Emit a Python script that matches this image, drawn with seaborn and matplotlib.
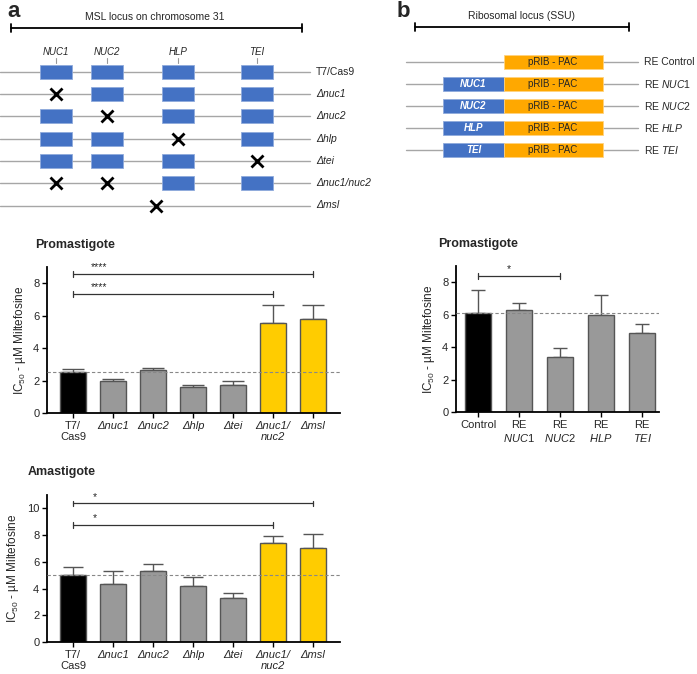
import matplotlib
matplotlib.use("Agg")
import matplotlib.pyplot as plt
import matplotlib.patches as mpatches
import seaborn as sns
import numpy as np
import pandas as pd

# ---- data ----
strains = ["T7/\nCas9", "Δnuc1", "Δnuc2", "Δhlp", "Δtei", "Δnuc1/\nnuc2", "Δmsl"]
strain_kind = ["ctrl", "ko", "ko", "ko", "ko", "dko", "dko"]
pro_mean = [2.5, 2.0, 2.65, 1.6, 1.7, 5.55, 5.8]
pro_top = [2.7, 2.1, 2.75, 1.75, 1.95, 6.65, 6.65]
ama_mean = [5.0, 4.35, 5.35, 4.2, 3.3, 7.4, 7.0]
ama_top = [5.6, 5.3, 5.85, 4.85, 3.7, 7.9, 8.1]

re_lines = ["Control", "RE\nNUC1", "RE\nNUC2", "RE\nHLP", "RE\nTEI"]
re_kind = ["ctrl", "ko", "ko", "ko", "ko"]
re_mean = [6.1, 6.3, 3.4, 6.0, 4.85]
re_top = [7.5, 6.7, 3.95, 7.2, 5.4]

# schematic a: gene start/end along locus, rows list deleted genes
genes = ["NUC1", "NUC2", "HLP", "TEI"]
gene_start = [40, 91, 162, 241]
gene_end = [72, 123, 194, 273]
rows_a = ["T7/Cas9", "Δnuc1", "Δnuc2", "Δhlp", "Δtei", "Δnuc1/nuc2", "Δmsl"]
deleted = [[], ["NUC1"], ["NUC2"], ["HLP"], ["TEI"], ["NUC1", "NUC2"], ["MSL"]]

# schematic b
rows_b = ["Control", "NUC1", "NUC2", "HLP", "TEI"]

colors = {"ctrl": "#000000", "ko": "#999999", "dko": "#FFCC00"}
blue = "#4472C4"
orange = "#FFA800"

sns.set_theme(style="ticks")
plt.rcParams["font.family"] = ["Liberation Sans", "DejaVu Sans"]
plt.rcParams["mathtext.fontset"] = "custom"
plt.rcParams["mathtext.rm"] = "Liberation Sans"
plt.rcParams["mathtext.it"] = "Liberation Sans:italic"

W, H = 697, 674
fig = plt.figure(figsize=(W / 100, H / 100), dpi=100)


def px_axes(l, t, r, b):
    return fig.add_axes([l / W, 1 - b / H, (r - l) / W, (b - t) / H])


# ---------- schematics (pixel coordinate overlay) ----------
ov = px_axes(0, 0, W, H)
ov.set_xlim(0, W)
ov.set_ylim(H, 0)
ov.axis("off")

# panel a
ov.text(7, 17, "a", fontsize=16, fontweight="bold", ha="left", va="baseline")
ov.text(155, 17, "MSL locus on chromosome 31", fontsize=7.5, ha="center", va="center")
ov.plot([11, 302], [28, 28], color="black", lw=1.3)
for xe in [11, 302]:
    ov.plot([xe, xe], [24, 32], color="black", lw=1.3)
centers = {g: (s + e) / 2 for g, s, e in zip(genes, gene_start, gene_end)}
centers["MSL"] = 156
for g in genes:
    ov.text(centers[g], 52, g, fontsize=7, fontstyle="italic", ha="center", va="center")
    ov.plot([centers[g], centers[g]], [58, 63], color="#999999", lw=0.8)
row_y_a = 71.7 + 22.3 * np.arange(len(rows_a))
for i, (lab, dels) in enumerate(zip(rows_a, deleted)):
    y = row_y_a[i]
    ov.plot([0, 310], [y, y], color="#A6A6A6", lw=1.0, zorder=1)
    for g, s, e in zip(genes, gene_start, gene_end):
        if "MSL" in dels or g in dels:
            continue
        ov.add_patch(mpatches.Rectangle((s, y - 7), e - s, 14, facecolor=blue,
                                        edgecolor="#8FAADC", lw=0.6, zorder=2))
    for g in dels:
        ov.plot(centers[g], y, marker="x", color="black", markersize=9, mew=2, zorder=3)
    ital = lab != "T7/Cas9"
    ov.text(316, y, lab, fontsize=7.5, fontstyle="italic" if ital else "normal",
            ha="left", va="center")

# panel b
ov.text(397, 17, "b", fontsize=16, fontweight="bold", ha="left", va="baseline")
ov.text(521, 16, "Ribosomal locus (SSU)", fontsize=7.5, ha="center", va="center")
ov.plot([415, 629], [27, 27], color="black", lw=1.3)
for xe in [415, 629]:
    ov.plot([xe, xe], [23, 31], color="black", lw=1.3)
row_y_b = 62 + 22 * np.arange(len(rows_b))
for i, g in enumerate(rows_b):
    y = row_y_b[i]
    ov.plot([406, 638], [y, y], color="#A6A6A6", lw=1.0, zorder=1)
    if g != "Control":
        ov.add_patch(mpatches.Rectangle((443, y - 7), 61, 14, facecolor=blue,
                                        edgecolor="#8FAADC", lw=0.6, zorder=2))
        ov.text(473.5, y, g, fontsize=7, color="white", fontweight="bold",
                fontstyle="italic", ha="center", va="center", zorder=3)
        ov.text(644, y, "RE $\\mathit{" + g + "}$", fontsize=7.5, ha="left", va="center")
    else:
        ov.text(644, y, "RE Control", fontsize=7.5, ha="left", va="center")
    ov.add_patch(mpatches.Rectangle((504, y - 7), 99, 14, facecolor=orange,
                                    edgecolor="#FFD27F", lw=0.6, zorder=2))
    ov.text(553, y, "pRIB - PAC", fontsize=7, ha="center", va="center", zorder=3)


# ---------- bar charts ----------
def bar_panel(ax, labels, kinds, mean, top, ymax, yticks, capsize, width, italic_mask):
    df = pd.DataFrame({"strain": labels, "kind": kinds, "value": mean})
    pal = [colors[k] for k in kinds]
    sns.barplot(data=df, x="strain", y="value", hue="strain", palette=pal,
                saturation=1, width=width, edgecolor="#555555", linewidth=1.0,
                legend=False, ax=ax, zorder=2)
    xs = np.arange(len(labels))
    err = np.array(top) - np.array(mean)
    ax.errorbar(xs, mean, yerr=[np.zeros(len(xs)), err], fmt="none",
                ecolor="#555555", elinewidth=1.0, capsize=capsize, capthick=1.0, zorder=1)
    ax.axhline(mean[0], color="#888888", lw=0.8, ls=(0, (3, 2)), zorder=3)
    ax.set_ylim(0, ymax)
    ax.set_yticks(yticks)
    ax.set_xlabel("")
    ax.set_ylabel("IC$_{50}$ - µM Miltefosine", fontsize=8.5)
    sns.despine(ax=ax)
    for sp in ["left", "bottom"]:
        ax.spines[sp].set_linewidth(1.3)
        ax.spines[sp].set_color("black")
    ax.tick_params(axis="both", labelsize=8, length=3.5, width=1.0, color="black", pad=2)
    ax.set_xticks(xs)
    ax.set_xticklabels(labels, fontsize=8, linespacing=1.2)
    for t, it in zip(ax.get_xticklabels(), italic_mask):
        if it:
            t.set_fontstyle("italic")


def bracket(ax, x0, x1, y, label, lx, h):
    ax.plot([x0, x1], [y, y], color="#333333", lw=0.9, clip_on=False)
    for xe in [x0, x1]:
        ax.plot([xe, xe], [y - h, y + h], color="#333333", lw=0.9, clip_on=False)
    ax.text(lx, y + h * 0.6, label, fontsize=7.5, ha="center", va="bottom")


italic_a = [False, True, True, True, True, True, True]

# promastigote (a)
ax1 = px_axes(47, 267, 340, 413)
bar_panel(ax1, strains, strain_kind, pro_mean, pro_top, 9, [0, 2, 4, 6, 8], 8, 0.65, italic_a)
ax1.set_xlim(-0.65, 6.675)
bracket(ax1, 0, 6, 8.58, "****", 0.65, 0.17)
bracket(ax1, 0, 5, 7.35, "****", 0.65, 0.17)
ax1.set_title("Promastigote", fontsize=9, fontweight="bold", loc="left", x=-0.04, y=1.07)

# amastigote (a)
ax2 = px_axes(47, 495, 340, 642)
bar_panel(ax2, strains, strain_kind, ama_mean, ama_top, 11, [0, 2, 4, 6, 8, 10], 7, 0.65, italic_a)
ax2.set_xlim(-0.65, 6.675)
bracket(ax2, 0, 6, 10.37, "*", 0.55, 0.21)
bracket(ax2, 0, 5, 8.75, "*", 0.55, 0.21)
ax2.set_title("Amastigote", fontsize=9, fontweight="bold", loc="left", x=-0.065, y=1.08)

# promastigote (b)
re_labels = ["Control"] + ["RE\n$\\mathit{" + g + "}$" for g in rows_b[1:]]
ax3 = px_axes(456, 266, 659, 412)
bar_panel(ax3, re_labels, re_kind, re_mean, re_top, 9, [0, 2, 4, 6, 8], 5, 0.63, [False] * 5)
ax3.set_xlim(-0.54, 4.41)
bracket(ax3, 0, 2, 8.37, "*", 0.75, 0.17)
ax3.set_title("Promastigote", fontsize=9, fontweight="bold", loc="left", x=-0.09, y=1.07)

fig.savefig("out.png", dpi=100)
